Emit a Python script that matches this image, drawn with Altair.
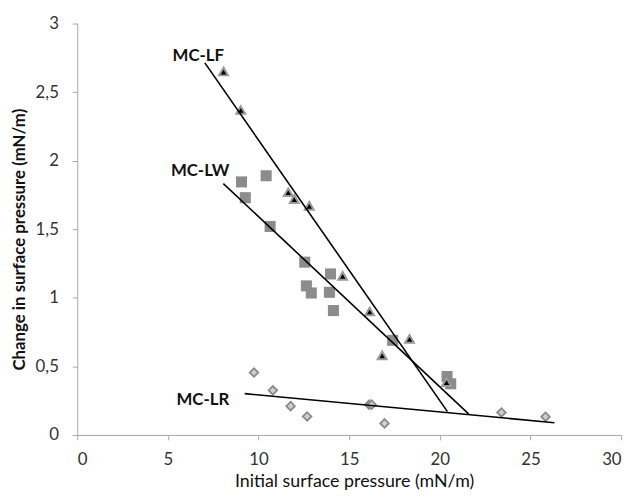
import altair as alt
import pandas as pd

# MC-LF (triangles)
lf_x = [8.07, 9.02, 11.64, 11.97, 12.8, 14.64, 16.13, 16.82, 18.33, 20.37]
lf_y = [2.65, 2.37, 1.77, 1.72, 1.67, 1.16, 0.90, 0.58, 0.70, 0.385]
# MC-LW (squares)
lw_x = [9.06, 9.27, 10.42, 10.64, 12.55, 12.64, 12.91, 13.97, 13.91, 14.13, 17.4, 20.4, 20.6]
lw_y = [1.845, 1.73, 1.89, 1.52, 1.26, 1.087, 1.035, 1.174, 1.04, 0.907, 0.69, 0.426, 0.373]
# MC-LR (diamonds)
lr_x = [9.75, 10.79, 11.77, 12.68, 16.1, 16.24, 16.95, 23.4, 25.83]
lr_y = [0.455, 0.325, 0.21, 0.135, 0.221, 0.221, 0.084, 0.164, 0.133]

# trend lines
line_names = ["MC-LF", "MC-LW", "MC-LR"]
line_x1 = [7.04, 8.06, 9.24]
line_y1 = [2.713, 1.833, 0.301]
line_x2 = [20.42, 21.6, 26.32]
line_y2 = [0.17, 0.152, 0.089]
label_x = [6.68, 6.78, 6.93]
label_y = [2.766, 1.924, 0.2525]

x_ticks = [0, 5, 10, 15, 20, 25, 30]
y_ticks = [0, 0.5, 1, 1.5, 2, 2.5, 3]

lf = pd.DataFrame({"x": lf_x, "y": lf_y})
lw = pd.DataFrame({"x": lw_x, "y": lw_y})
lr = pd.DataFrame({"x": lr_x, "y": lr_y})
lines = pd.DataFrame({"name": line_names, "x": line_x1, "y": line_y1,
                      "x2": line_x2, "y2": line_y2,
                      "lx": label_x, "ly": label_y})

xs = alt.Scale(domain=[0, 30], nice=False, zero=False)
ys = alt.Scale(domain=[0, 3], nice=False, zero=False)

x_enc = alt.X("x:Q", scale=xs, axis=alt.Axis(
    values=x_ticks, title="Initial surface pressure (mN/m)", titleFontWeight="normal",
    titleFontSize=18, grid=False, tickSize=5, labelPadding=12, titleX=280, titleY=52,
    titleBaseline="alphabetic", titleAlign="center",
    domainColor="#a6a6a6", tickColor="#a6a6a6"))
y_enc = alt.Y("y:Q", scale=ys, axis=alt.Axis(
    values=y_ticks, title="Change in surface pressure (mN/m)", titleFontWeight="bold",
    grid=False, tickSize=5, labelPadding=14, titleX=-58, titleY=218,
    titleAngle=270, titleAlign="center", titleBaseline="middle",
    labelExpr="replace(format(datum.value, '~g'), '.', ',')",
    domainColor="#a6a6a6", tickColor="#a6a6a6"))

squares = alt.Chart(lw).mark_point(shape="square", filled=True, size=125,
                                   fill="#8c8c8c", stroke="#8c8c8c", strokeWidth=0,
                                   opacity=1).encode(x=x_enc, y=y_enc)
tris = alt.Chart(lf).mark_point(shape="triangle-up", filled=True, size=80,
                                fill="#000000", stroke="#9a9a9a", strokeWidth=2,
                                opacity=1).encode(x="x:Q", y="y:Q")
diamonds = alt.Chart(lr).mark_point(shape="diamond", filled=True, size=75,
                                    fill="#cfcfcf", stroke="#8a8a8a", strokeWidth=1.8,
                                    opacity=1).encode(x="x:Q", y="y:Q")
rules = alt.Chart(lines).mark_rule(color="black", strokeWidth=1.6).encode(
    x="x:Q", y="y:Q", x2="x2:Q", y2="y2:Q")
labels = alt.Chart(lines).mark_text(font="Lato", fontWeight="bold", fontSize=17,
                                    color="#111111", align="center",
                                    baseline="middle").encode(
    x="lx:Q", y="ly:Q", text="name:N")

chart = alt.layer(diamonds, squares, tris, rules, labels).properties(
    width=550, height=416, autosize="none",
    padding={"left": 70, "top": 13, "right": 12, "bottom": 56}
).configure_view(stroke=None).configure_axis(
    labelFont="Lato", labelFontSize=17, labelColor="#333333",
    titleFont="Lato", titleFontSize=17, titleColor="#111111")

chart.save("out.html", embed_options={"renderer": "svg", "actions": False})
